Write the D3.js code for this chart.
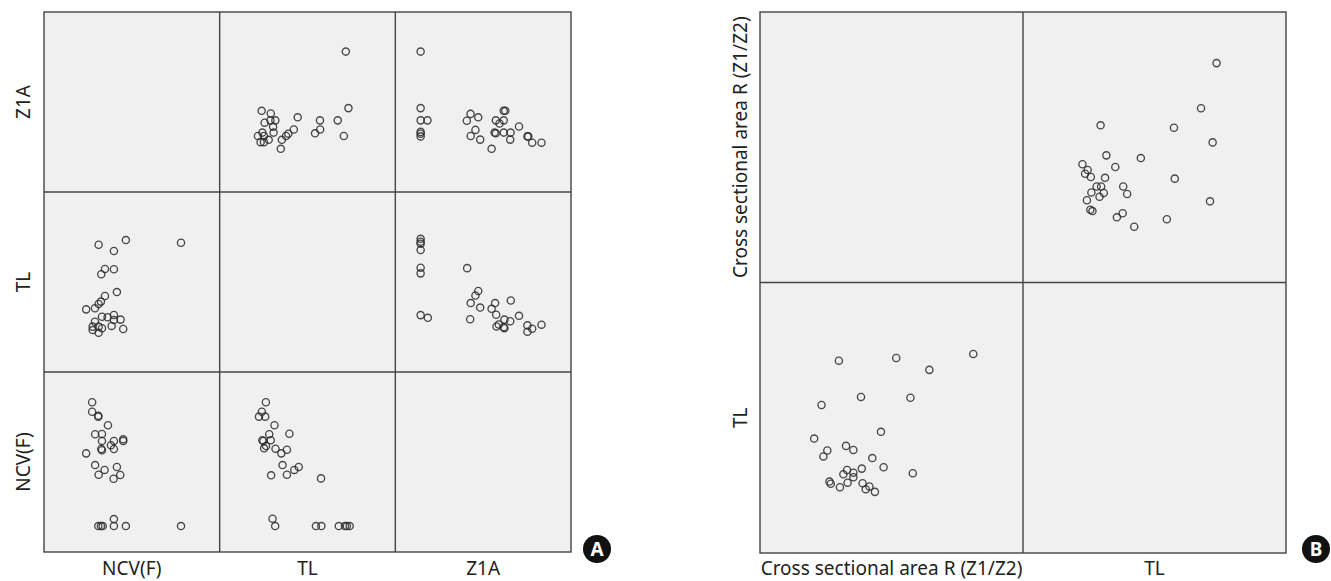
<!DOCTYPE html>
<html>
<head>
<meta charset="utf-8">
<script src="https://cdn.jsdelivr.net/npm/d3@7"></script>
<style>
body { margin: 0; background: #fff; }
text { font-family: "Noto Sans", sans-serif; fill: #222; }
</style>
</head>
<body>
<div></div>
<script>
var width = 1331;
var height = 581;

// panel A: column variables left->right, row labels top->bottom (as printed)
var colsA = ["NCV(F)", "TL", "Z1A"];
var rowsA = ["Z1A", "TL", "NCV(F)"];
// panel B
var colsB = ["Cross sectional area R (Z1/Z2)", "TL"];
var rowsB = ["Cross sectional area R (Z1/Z2)", "TL"];

// values, relative units 0-100 within each cell
// [NCV, TL]
var ncvTl = [
    [78.0, 71.8], [46.6, 73.3], [31.1, 70.7], [39.8, 67.2], [34.7, 57.2],
    [39.8, 57.1], [32.6, 54.3], [41.5, 44.4], [34.7, 42.2], [32.4, 39.1],
    [31.1, 37.8], [29.0, 35.4], [24.0, 34.8], [33.0, 30.7], [36.2, 30.4],
    [39.8, 31.7], [39.8, 28.9], [43.6, 29.1], [45.1, 23.9], [38.5, 25.6],
    [29.0, 27.9], [27.7, 25.2], [27.7, 23.3], [31.1, 21.8], [33.0, 24.3],
    [31.1, 25.2]
];
// [NCV, Z1A]
var ncvZ1a = [
    [27.4, 83.2], [27.4, 77.9], [30.9, 75.7], [30.9, 75.2], [36.4, 70.4],
    [29.1, 65.4], [33.0, 65.6], [33.0, 61.7], [39.8, 61.7], [45.1, 62.6],
    [45.1, 61.7], [38.1, 59.3], [39.8, 57.2], [32.6, 57.2], [33.0, 56.5],
    [24.0, 54.8], [29.1, 48.3], [41.5, 47.2], [34.5, 45.6], [31.1, 42.9],
    [43.4, 42.8], [39.6, 40.7], [39.8, 18.3], [30.9, 14.4], [32.4, 14.4],
    [33.4, 14.4], [39.8, 14.4], [46.6, 14.4], [78.0, 14.4]
];
// [TL, Z1A]
var tlZ1a = [
    [26.3, 83.2], [24.0, 77.9], [22.4, 75.2], [25.9, 75.2], [31.2, 70.4],
    [39.7, 65.7], [28.2, 65.4], [24.3, 62.1], [24.9, 61.7], [29.1, 62.1],
    [25.3, 57.6], [26.4, 58.9], [31.8, 57.4], [38.3, 56.8], [35.1, 54.8],
    [35.8, 48.3], [45.0, 47.2], [42.5, 45.6], [38.3, 42.9], [29.3, 42.6],
    [57.7, 40.9], [30.1, 18.5], [31.6, 14.4], [54.8, 14.4], [57.9, 14.4],
    [67.8, 14.4], [71.3, 14.4], [72.4, 14.4], [74.0, 14.4]
];
// [CSA, TL]
var csaTl = [
    [81.1, 73.6], [51.8, 72.1], [30.0, 71.1], [64.4, 67.7], [38.4, 57.7],
    [57.2, 57.4], [23.4, 54.7], [46.0, 44.8], [20.6, 42.3], [32.7, 39.6],
    [35.5, 38.1], [25.6, 37.9], [24.1, 35.7], [42.7, 35.1], [47.0, 31.7],
    [38.7, 31.2], [58.1, 29.5], [33.1, 30.7], [35.5, 29.7], [31.7, 29.1],
    [35.5, 28.0], [33.3, 26.0], [26.4, 26.4], [26.9, 25.6], [30.4, 24.3],
    [39.0, 25.8], [41.6, 24.6], [40.2, 23.6], [43.7, 22.6]
];

// cells: [row, col, data, swap]  (swap -> draw pair transposed)
var cellsA = [
    [0, 1, ncvTl, true],
    [0, 2, ncvZ1a, true],
    [1, 0, ncvTl, false],
    [1, 2, tlZ1a, true],
    [2, 0, ncvZ1a, false],
    [2, 1, tlZ1a, false]
];
var cellsB = [
    [0, 1, csaTl, true],
    [1, 0, csaTl, false]
];

var svg = d3.select("div")
    .append("svg")
    .attr("width", width)
    .attr("height", height);

function drawMatrix(cols, rows, cells, x0, x1, y0, y1, labelX, badge, badgeX) {
    var xb = d3.scaleBand().domain(d3.range(cols.length)).range([x0, x1]);
    var yb = d3.scaleBand().domain(d3.range(rows.length)).range([y0, y1]);
    var g = svg.append("g");

    g.append("rect")
        .attr("x", x0).attr("y", y0)
        .attr("width", x1 - x0).attr("height", y1 - y0)
        .attr("fill", "#f0f0f0");

    cells.forEach(function (c) {
        var x = d3.scaleLinear().domain([0, 100]).range([xb(c[1]), xb(c[1]) + xb.bandwidth()]);
        var y = d3.scaleLinear().domain([0, 100]).range([yb(c[0]) + yb.bandwidth(), yb(c[0])]);
        g.selectAll(null)
            .data(c[2])
            .enter()
            .append("circle")
            .attr("cx", function (d) { return x(c[3] ? d[1] : d[0]); })
            .attr("cy", function (d) { return y(c[3] ? d[0] : d[1]); })
            .attr("r", 3.6)
            .attr("fill", "none")
            .attr("stroke", "#2a2a2a")
            .attr("stroke-opacity", 0.85)
            .attr("stroke-width", 1.35);
    });

    // grid
    g.selectAll(null)
        .data(d3.range(1, cols.length))
        .enter()
        .append("line")
        .attr("x1", function (d) { return xb(d); })
        .attr("x2", function (d) { return xb(d); })
        .attr("y1", y0).attr("y2", y1)
        .attr("stroke", "#444").attr("stroke-width", 1.4);
    g.selectAll(null)
        .data(d3.range(1, rows.length))
        .enter()
        .append("line")
        .attr("y1", function (d) { return yb(d); })
        .attr("y2", function (d) { return yb(d); })
        .attr("x1", x0).attr("x2", x1)
        .attr("stroke", "#444").attr("stroke-width", 1.4);
    g.append("rect")
        .attr("x", x0).attr("y", y0)
        .attr("width", x1 - x0).attr("height", y1 - y0)
        .attr("fill", "none")
        .attr("stroke", "#444").attr("stroke-width", 1.4);

    g.selectAll(null)
        .data(cols)
        .enter()
        .append("text")
        .attr("x", function (d, i) { return xb(i) + xb.bandwidth() / 2; })
        .attr("y", 575)
        .attr("text-anchor", "middle")
        .style("font-size", "19px")
        .text(function (d) { return d; });

    g.selectAll(null)
        .data(rows)
        .enter()
        .append("text")
        .attr("transform", function (d, i) {
            return "translate(" + labelX + "," + (yb(i) + yb.bandwidth() / 2) + ") rotate(-90)";
        })
        .attr("text-anchor", "middle")
        .style("font-size", "19px")
        .text(function (d) { return d; });

    g.append("circle")
        .attr("cx", badgeX).attr("cy", 549).attr("r", 14)
        .attr("fill", "#111");
    g.append("text")
        .attr("x", badgeX).attr("y", 556)
        .attr("text-anchor", "middle")
        .style("font-size", "19px")
        .style("font-weight", "bold")
        .style("fill", "#fff")
        .text(badge);
}

drawMatrix(colsA, rowsA, cellsA, 44, 571, 12, 552, 30, "A", 597);
drawMatrix(colsB, rowsB, cellsB, 760, 1286, 12, 553, 747, "B", 1316);
</script>
</body>
</html>
